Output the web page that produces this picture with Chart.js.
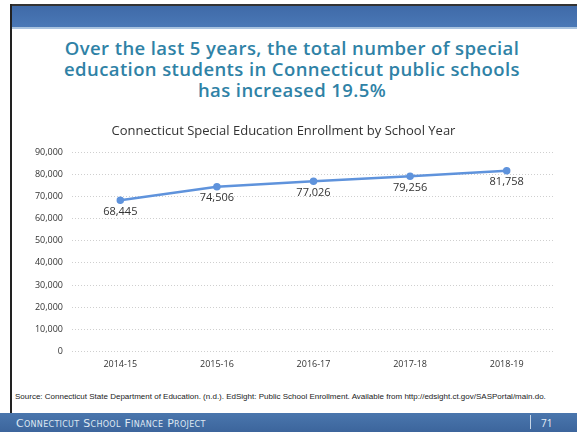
<!DOCTYPE html>
<html>
<head>
<meta charset="utf-8">
<script src="https://cdn.jsdelivr.net/npm/chart.js@4.4.1/dist/chart.umd.min.js"></script>
<style>
  html, body { margin: 0; padding: 0; background: #fff; }
  #slide { position: relative; width: 577px; height: 432px; overflow: hidden; background: #fff; font-family: 'Open Sans', sans-serif; }
  #topline { position: absolute; left: 10px; top: 4px; width: 567px; height: 2px; background: #333; }
  #band { position: absolute; left: 10px; top: 6px; width: 567px; height: 21px; background: linear-gradient(#3f6aa8, #4a78b6); }
  #band2 { position: absolute; left: 10px; top: 27px; width: 567px; height: 2px; background: #a9c3df; }
  #leftline { position: absolute; left: 10px; top: 4px; width: 2px; height: 410px; background: #222; }
  #headline { position: absolute; left: 12px; top: 37px; width: 560px; text-align: center; color: #2f82a6; font-family: 'Open Sans', sans-serif; font-weight: 600; font-size: 18.5px; line-height: 21px; letter-spacing: 0.4px; }
  #chartbox { position: absolute; left: 12px; top: 117px; width: 555px; height: 253px; }
  #source { position: absolute; left: 15px; top: 392px; font-size: 8px; color: #222; font-family: 'Liberation Sans', sans-serif; white-space: nowrap; }
  #footer { position: absolute; left: 0; top: 413px; width: 577px; height: 19px; background: linear-gradient(#4a76ad, #3c659c); }
  #footer .name { position: absolute; left: 16px; top: 4px; color: #dfe8f2; font-size: 11px; font-variant: small-caps; letter-spacing: 0.3px; font-family: 'DejaVu Sans', sans-serif; }
  #footer .sep { position: absolute; left: 530px; top: 2px; width: 1px; height: 14px; background: #c8d6e6; }
  #footer .num { position: absolute; left: 541px; top: 3px; color: #e6eef6; font-size: 10px; }
</style>
</head>
<body>
<div id="slide">
  <div id="band"></div>
  <div id="band2"></div>
  <div id="topline"></div>
  <div id="leftline"></div>
  <div id="headline">Over the last 5 years, the total number of special<br>education students in Connecticut public schools<br>has increased 19.5%</div>
  <div id="chartbox"><canvas id="chart"></canvas></div>
  <div id="source">Source: Connecticut State Department of Education. (n.d.). EdSight: Public School Enrollment. Available from http://edsight.ct.gov/SASPortal/main.do.</div>
  <div id="footer">
    <span class="name">Connecticut School Finance Project</span>
    <span class="sep"></span>
    <span class="num">71</span>
  </div>
</div>
<script>
// 各學年特教學生人數
const YEARS = ['2014-15', '2015-16', '2016-17', '2017-18', '2018-19'];
const ENROLLMENT = [68445, 74506, 77026, 79256, 81758];
const Y_TICKS = [0, 10000, 20000, 30000, 40000, 50000, 60000, 70000, 80000, 90000];

const LINE = '#5f93dc';
const fmt = (v) => v.toLocaleString('en-US');

// 點下方的數值標籤
const valueLabels = {
  id: 'valueLabels',
  afterDatasetsDraw(chart) {
    const { ctx } = chart;
    const pts = chart.getDatasetMeta(0).data;
    ctx.save();
    ctx.font = '11px "Open Sans", sans-serif';
    ctx.fillStyle = '#333';
    ctx.textAlign = 'center';
    ctx.textBaseline = 'top';
    pts.forEach((p, i) => {
      ctx.fillText(fmt(ENROLLMENT[i]), p.x, p.y + 6);
    });
    ctx.restore();
  },
};

new Chart(document.getElementById('chart'), {
  type: 'line',
  data: {
    labels: YEARS,
    datasets: [{
      data: ENROLLMENT,
      borderColor: LINE,
      backgroundColor: LINE,
      borderWidth: 2.5,
      pointRadius: 2.5,
      tension: 0,
    }],
  },
  options: {
    responsive: true, maintainAspectRatio: false,
    animation: false,
    layout: { padding: { top: 0, right: 12, bottom: 0, left: 0 } },
    plugins: {
      legend: { display: false },
      tooltip: { enabled: false },
      title: {
        display: true,
        text: 'Connecticut Special Education Enrollment by School Year',
        color: '#333',
        font: { family: "'Open Sans', sans-serif", size: 13, weight: 'normal' },
        padding: { top: 6, bottom: 14 },
      },
    },
    scales: {
      x: {
        offset: true,
        grid: { display: false },
        border: { display: false },
        ticks: { color: '#333', font: { family: "'Open Sans', sans-serif", size: 9 }, padding: 0 },
      },
      y: {
        min: 0, max: 90000,
        afterBuildTicks: (s) => { s.ticks = Y_TICKS.map((v) => ({ value: v })); },
        afterFit: (s) => { s.width = 60; },
        grid: { color: '#cfcfcf', lineWidth: 1, drawTicks: false, borderDash: [1, 2] },
        border: { display: false, dash: [1, 2] },
        ticks: { color: '#333', font: { family: "'Open Sans', sans-serif", size: 9 }, padding: 9, callback: (v) => fmt(v) },
      },
    },
  },
  plugins: [valueLabels],
});
</script>
</body>
</html>
